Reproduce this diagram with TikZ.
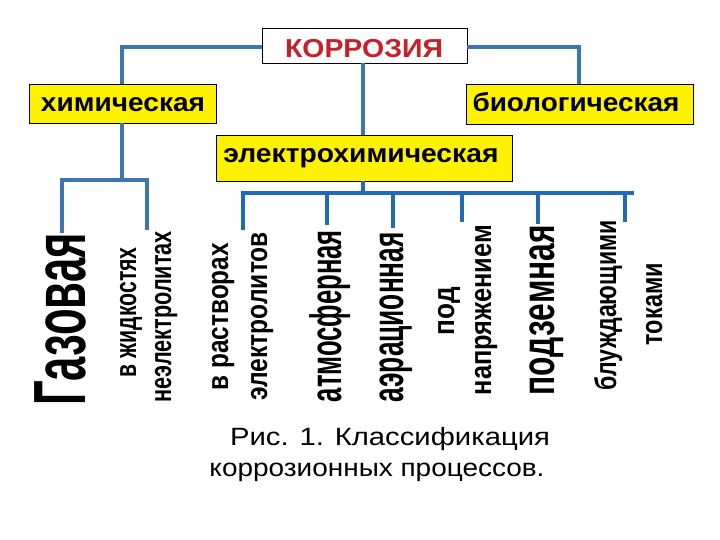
\documentclass[tikz,border=0pt]{standalone}
\usepackage{fontspec}
\setmainfont{Liberation Sans}
\usepackage{graphicx}
\definecolor{lineblue}{HTML}{3B76B2}
\definecolor{busblue}{HTML}{1F6CB5}
\definecolor{kred}{HTML}{C8202A}
\newcommand{\fitw}[3]{\resizebox{#1pt}{\height}{\fontsize{#2pt}{#2pt}\selectfont\bfseries #3}}
\newcommand{\fitn}[3]{\resizebox{#1pt}{\height}{\fontsize{#2pt}{#2pt}\selectfont #3}}
\begin{document}
\begin{tikzpicture}[x=1pt,y=-1pt,
  conn/.style={draw=lineblue,line width=4.5pt},
  bus/.style={draw=busblue,line width=4pt},
  boxy/.style={draw=black,line width=0.8pt,fill=yellow},
  boxw/.style={draw=black,line width=0.8pt,fill=white},
  vt/.style={rotate=90,anchor=base east,inner sep=0pt},
  lbl/.style={anchor=base,inner sep=0pt}]
\useasboundingbox (0,0) rectangle (720,540);
% boxes
\path[boxw] (262,28) rectangle (467,63);
\path[boxy] (29,84) rectangle (216,123);
\path[boxy] (466,84) rectangle (693,124);
\path[boxy] (216,135) rectangle (512,181);
% connectors
\draw[conn] (262,47) -- (122,47) -- (122,84);
\draw[conn] (467,47) -- (579,47) -- (579,84);
\draw[conn] (363,63) -- (363,135);
\draw[conn] (122,123) -- (122,180);
\draw[conn] (62,180) -- (147,180);
\draw[conn] (62,178) -- (62,233);
\draw[conn] (147,178) -- (147,230);
\draw[bus] (363,181) -- (363,193);
\draw[bus] (243,193) -- (634,193);
\foreach \x/\e in {243/230,327/225,393/228,462/222,538/224,625/222}
  \draw[bus] (\x,191) -- (\x,\e);
% labels
\node[lbl,text=kred] (k) at (364,58) {\fitw{158}{26}{КОРРОЗИЯ}};
\node[lbl] (h) at (123,112) {\fitw{164}{26}{химическая}};
\node[lbl] (b) at (576,112) {\fitw{207}{26}{биологическая}};
\node[lbl] (e) at (361,163) {\fitw{275}{26}{электрохимическая}};
% vertical texts
\node[vt] (g) at (85,233) {\fitw{172}{74}{Газовая}};
\node[vt] (v1) at (136,247) {\fitw{130}{30}{в жидкостях}};
\node[vt] (v2) at (171,231) {\fitw{171}{30}{неэлектролитах}};
\node[vt] (v3) at (228,243) {\fitw{147}{30}{в растворах}};
\node[vt] (v4) at (267,232) {\fitw{168}{30}{электролитов}};
\node[vt] (v5) at (341,230) {\fitw{172}{44}{атмосферная}};
\node[vt] (v6) at (403,232) {\fitw{170}{44}{аэрационная}};
\node[vt] (v7) at (454,287) {\fitw{48}{30}{под}};
\node[vt] (v8) at (491,225) {\fitw{170}{30}{напряжением}};
\node[vt] (v9) at (554,225) {\fitw{170}{46}{подземная}};
\node[vt] (v10) at (616,220) {\fitw{170}{30}{блуждающими}};
\node[vt] (v11) at (662,263) {\fitw{82}{30}{токами}};
% caption
\node[lbl] (c1) at (390,445) {\fitn{320}{25}{Рис. 1. Классификация}};
\node[lbl] (c2) at (377,476) {\fitn{335}{25}{коррозионных процессов.}};
\end{tikzpicture}
\end{document}
